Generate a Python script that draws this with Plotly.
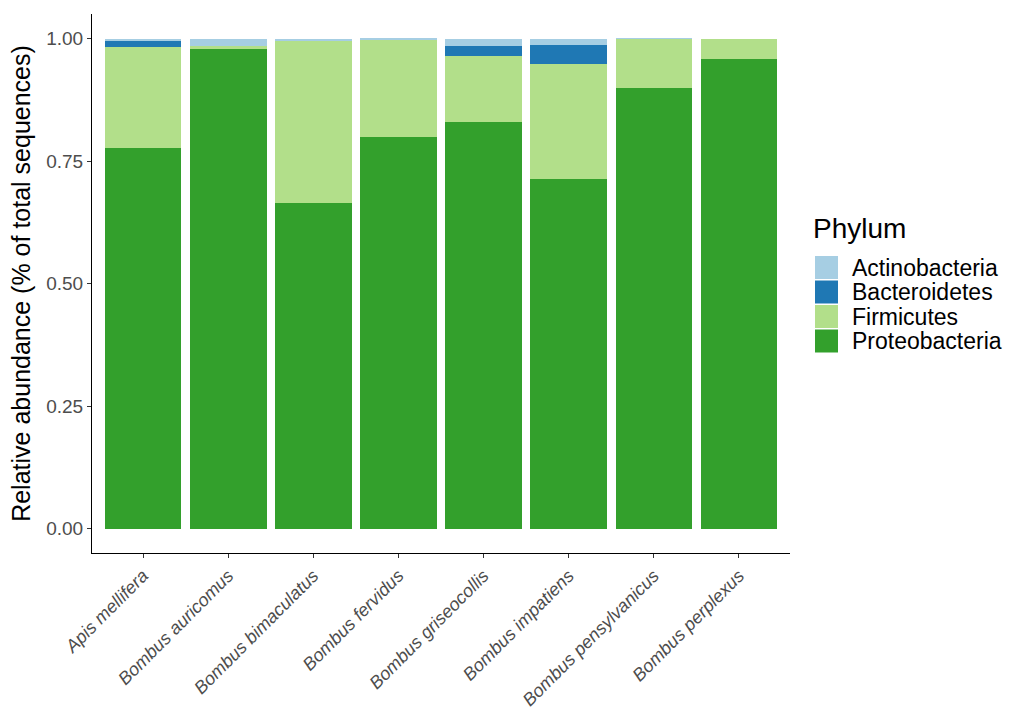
import plotly.graph_objects as go

# Bee species (x categories)
species = [
    "Apis mellifera", "Bombus auricomus", "Bombus bimaculatus", "Bombus fervidus",
    "Bombus griseocollis", "Bombus impatiens", "Bombus pensylvanicus", "Bombus perplexus",
]

# Relative abundance per phylum for each species
proteobacteria = [0.776, 0.980, 0.665, 0.800, 0.829, 0.713, 0.898, 0.959]
firmicutes     = [0.206, 0.004, 0.331, 0.198, 0.136, 0.234, 0.101, 0.041]
bacteroidetes  = [0.014, 0.000, 0.000, 0.000, 0.019, 0.039, 0.000, 0.000]
actinobacteria = [0.004, 0.016, 0.002, 0.002, 0.016, 0.012, 0.001, 0.000]

phyla = ["Actinobacteria", "Bacteroidetes", "Firmicutes", "Proteobacteria"]
colors = {
    "Actinobacteria": "#A6CEE3",
    "Bacteroidetes": "#1F78B4",
    "Firmicutes": "#B2DF8A",
    "Proteobacteria": "#33A02C",
}
values = {
    "Actinobacteria": actinobacteria,
    "Bacteroidetes": bacteroidetes,
    "Firmicutes": firmicutes,
    "Proteobacteria": proteobacteria,
}

W, H = 1021, 712
L, R, T, B = 92, 231, 14, 159
FONT = "Liberation Sans, Arial, sans-serif"

fig = go.Figure()
# stacked from the bottom: Proteobacteria first, Actinobacteria on top
for ph in reversed(phyla):
    fig.add_trace(go.Bar(
        x=species, y=values[ph], name=ph,
        marker=dict(color=colors[ph], line=dict(width=0)),
        showlegend=False,
    ))

fig.update_layout(
    width=W, height=H,
    margin=dict(l=L, r=R, t=T, b=B),
    barmode="stack", bargap=0.1,
    plot_bgcolor="white", paper_bgcolor="white",
    font=dict(family=FONT),
)
fig.update_xaxes(
    range=[-0.6, 7.6], automargin=False,
    showline=True, linecolor="black", linewidth=1.1,
    ticks="outside", ticklen=4, tickcolor="#333333", tickwidth=1,
    tickangle=-45,
    tickfont=dict(size=18, color="#4D4D4D", family=FONT, style="italic"),
    showgrid=False, zeroline=False,
)
fig.update_yaxes(
    range=[-0.05, 1.05], automargin=False,
    tickvals=[0, 0.25, 0.5, 0.75, 1.0],
    ticktext=["0.00", "0.25", "0.50", "0.75", "1.00"],
    showline=True, linecolor="black", linewidth=1.1,
    ticks="outside", ticklen=4, tickcolor="#333333", tickwidth=1,
    tickfont=dict(size=19, color="#4D4D4D", family=FONT),
    title=dict(text="Relative abundance (% of total sequences)",
               font=dict(size=25, color="black", family=FONT), standoff=8),
    showgrid=False, zeroline=False,
)

# legend drawn as keys + labels to the right of the panel
pw, ph_ = W - L - R, H - T - B


def px_x(px):
    return (px - L) / pw


def px_y(py):
    return (H - B - py) / ph_


fig.add_annotation(
    x=px_x(812), y=px_y(229), xref="paper", yref="paper",
    text="Phylum", showarrow=False, xanchor="left", yanchor="middle",
    font=dict(size=28, color="black", family=FONT), borderpad=0,
)
for i, ph in enumerate(phyla):
    top = 256 + i * 24.5
    fig.add_shape(
        type="rect", xref="paper", yref="paper",
        x0=px_x(815), x1=px_x(838), y0=px_y(top), y1=px_y(top + 23),
        fillcolor=colors[ph], line=dict(width=0),
    )
    fig.add_annotation(
        x=px_x(851), y=px_y(top + 11.5), xref="paper", yref="paper",
        text=ph, showarrow=False, xanchor="left", yanchor="middle",
        font=dict(size=23, color="black", family=FONT), borderpad=0,
    )

fig.write_html("out.html")
